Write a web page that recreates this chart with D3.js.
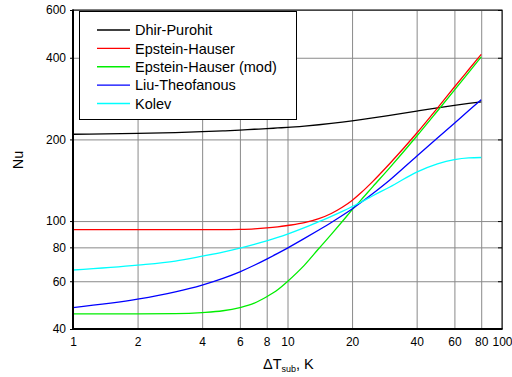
<!DOCTYPE html>
<html>
<head>
<meta charset="utf-8">
<script src="https://cdn.jsdelivr.net/npm/d3@7"></script>
<style>
  html, body { margin: 0; padding: 0; background: #fff; }
  svg { display: block; font-family: "Liberation Sans", Arial, sans-serif; }
</style>
</head>
<body>
<svg id="chart" width="512" height="377"></svg>
<script>
// ---- data ----
const dT = [1, 2, 3, 4, 5, 6, 7, 8, 9, 10, 12, 14, 16, 18, 20, 22, 25, 30, 40, 50, 60, 70, 80];
const dhirPurohit   = [209, 210.5, 212, 213.5, 215, 216.5, 218, 219.2, 220.4, 221.5, 224, 226.5, 229, 231.5, 234, 236.5, 240, 245.5, 254.5, 261.5, 267, 271.5, 275];
const epsteinHauser = [93, 93, 93, 93, 93, 93.2, 93.6, 94.3, 95.2, 96.3, 98.6, 102, 106.6, 112.4, 119.1, 127.1, 140.1, 163, 210.7, 261, 312, 362, 411.6];
const epsteinMod    = [45.5, 45.5, 45.6, 46.0, 46.7, 48, 49.8, 52.6, 55.8, 59.9, 68.8, 79.2, 89.3, 99.6, 110, 119.5, 134, 157.5, 205.4, 254.5, 303.7, 353.2, 403];
const liuTheofanous = [48, 51.5, 54.8, 58.1, 61.5, 65, 68.7, 72.4, 76, 79.5, 86.3, 92.7, 98.8, 104.8, 110.8, 117, 126.3, 141.7, 173.4, 202.4, 229.5, 255.5, 280];
const kolev         = [66, 68.8, 71.2, 74.2, 76.8, 79.4, 82, 84.5, 87, 89.5, 94.5, 99.5, 104, 108.5, 113, 117.3, 124, 133.5, 151.5, 162.5, 168.5, 171, 171.5];

const seriesNames  = ["Dhir-Purohit", "Epstein-Hauser", "Epstein-Hauser (mod)", "Liu-Theofanous", "Kolev"];
const seriesValues = [dhirPurohit, epsteinHauser, epsteinMod, liuTheofanous, kolev];
const seriesColors = ["#000000", "#ff0000", "#00ee00", "#0000ff", "#00ffff"];

const xTicks = [1, 2, 4, 6, 8, 10, 20, 40, 60, 80, 100];
const yTicks = [40, 60, 80, 100, 200, 400, 600];

// ---- layout ----
const L = 73, R = 502, T = 10, B = 329;
const svg = d3.select("#chart");
svg.append("rect").attr("width", 512).attr("height", 377).attr("fill", "#fff");

const x = d3.scaleLog().domain([1, 100]).range([L, R]);
const y = d3.scaleLog().domain([40, 600]).range([B, T]);

// grid + tick labels
const gx = svg.append("g").attr("transform", `translate(0,${B})`)
  .call(d3.axisBottom(x).tickValues(xTicks).tickFormat(d3.format("d"))
        .tickSizeInner(-(B - T)).tickSizeOuter(0).tickPadding(8));
const gy = svg.append("g").attr("transform", `translate(${L},0)`)
  .call(d3.axisLeft(y).tickValues(yTicks).tickFormat(d3.format("d"))
        .tickSizeInner(-(R - L)).tickSizeOuter(0).tickPadding(7));
[gx, gy].forEach(g => {
  g.select(".domain").remove();
  g.selectAll(".tick line").attr("stroke", "#8a8a8a").attr("stroke-width", 1);
  g.selectAll(".tick text").attr("fill", "#000").attr("font-size", 12)
    .attr("font-family", "Liberation Sans, Arial, sans-serif");
});

// small dark tick marks on left/right axes
const tl = svg.append("g").attr("transform", `translate(${L},0)`)
  .call(d3.axisLeft(y).tickValues(yTicks).tickFormat("").tickSizeInner(3).tickSizeOuter(0));
tl.select(".domain").remove();
tl.selectAll(".tick line").attr("stroke", "#000");
const tr = svg.append("g").attr("transform", `translate(${R},0)`)
  .call(d3.axisRight(y).tickValues(yTicks).tickFormat("").tickSizeInner(-4).tickSizeOuter(0));
tr.select(".domain").remove();
tr.selectAll(".tick line").attr("stroke", "#000");

// curves
const line = d3.line()
  .x(d => x(d[0]))
  .y(d => y(d[1]))
  .curve(d3.curveMonotoneX);

seriesValues.forEach((vals, i) => {
  svg.append("path")
    .datum(dT.map((t, j) => [t, vals[j]]))
    .attr("fill", "none")
    .attr("stroke", seriesColors[i])
    .attr("stroke-width", 1.3)
    .attr("d", line);
});

// frame
svg.append("rect").attr("x", L).attr("y", T).attr("width", R - L).attr("height", B - T)
  .attr("fill", "none").attr("stroke", "#000").attr("stroke-width", 1);
svg.append("line").attr("x1", L).attr("x2", L).attr("y1", T - 0.5).attr("y2", B + 1)
  .attr("stroke", "#000").attr("stroke-width", 2);
svg.append("line").attr("x1", L - 1).attr("x2", R + 0.5).attr("y1", B).attr("y2", B)
  .attr("stroke", "#000").attr("stroke-width", 2);

// legend
const lg = svg.append("g");
lg.append("rect").attr("x", 79.5).attr("y", 11.5).attr("width", 217).attr("height", 108)
  .attr("fill", "#fff").attr("stroke", "#000").attr("stroke-width", 1);
const rowY = d3.scaleLinear().domain([0, 4]).range([30, 103.5]);
seriesNames.forEach((name, i) => {
  const yy = rowY(i);
  lg.append("line").attr("x1", 97).attr("x2", 130).attr("y1", yy).attr("y2", yy)
    .attr("stroke", seriesColors[i]).attr("stroke-width", 1.3);
  lg.append("text").attr("x", 135).attr("y", yy).attr("dy", "0.36em")
    .attr("font-size", 14.5).attr("fill", "#000").text(name);
});

// axis titles
svg.append("text")
  .attr("transform", "translate(23,160) rotate(-90)")
  .attr("text-anchor", "middle").attr("font-size", 14.5).attr("fill", "#000").text("Nu");

const xt = svg.append("text").attr("x", 263).attr("y", 369).attr("font-size", 14.5).attr("fill", "#000");
xt.append("tspan").text("\u0394T");
xt.append("tspan").attr("font-size", 9).attr("dy", 3).text("sub");
xt.append("tspan").attr("dy", -3).text(", K");
</script>
</body>
</html>
